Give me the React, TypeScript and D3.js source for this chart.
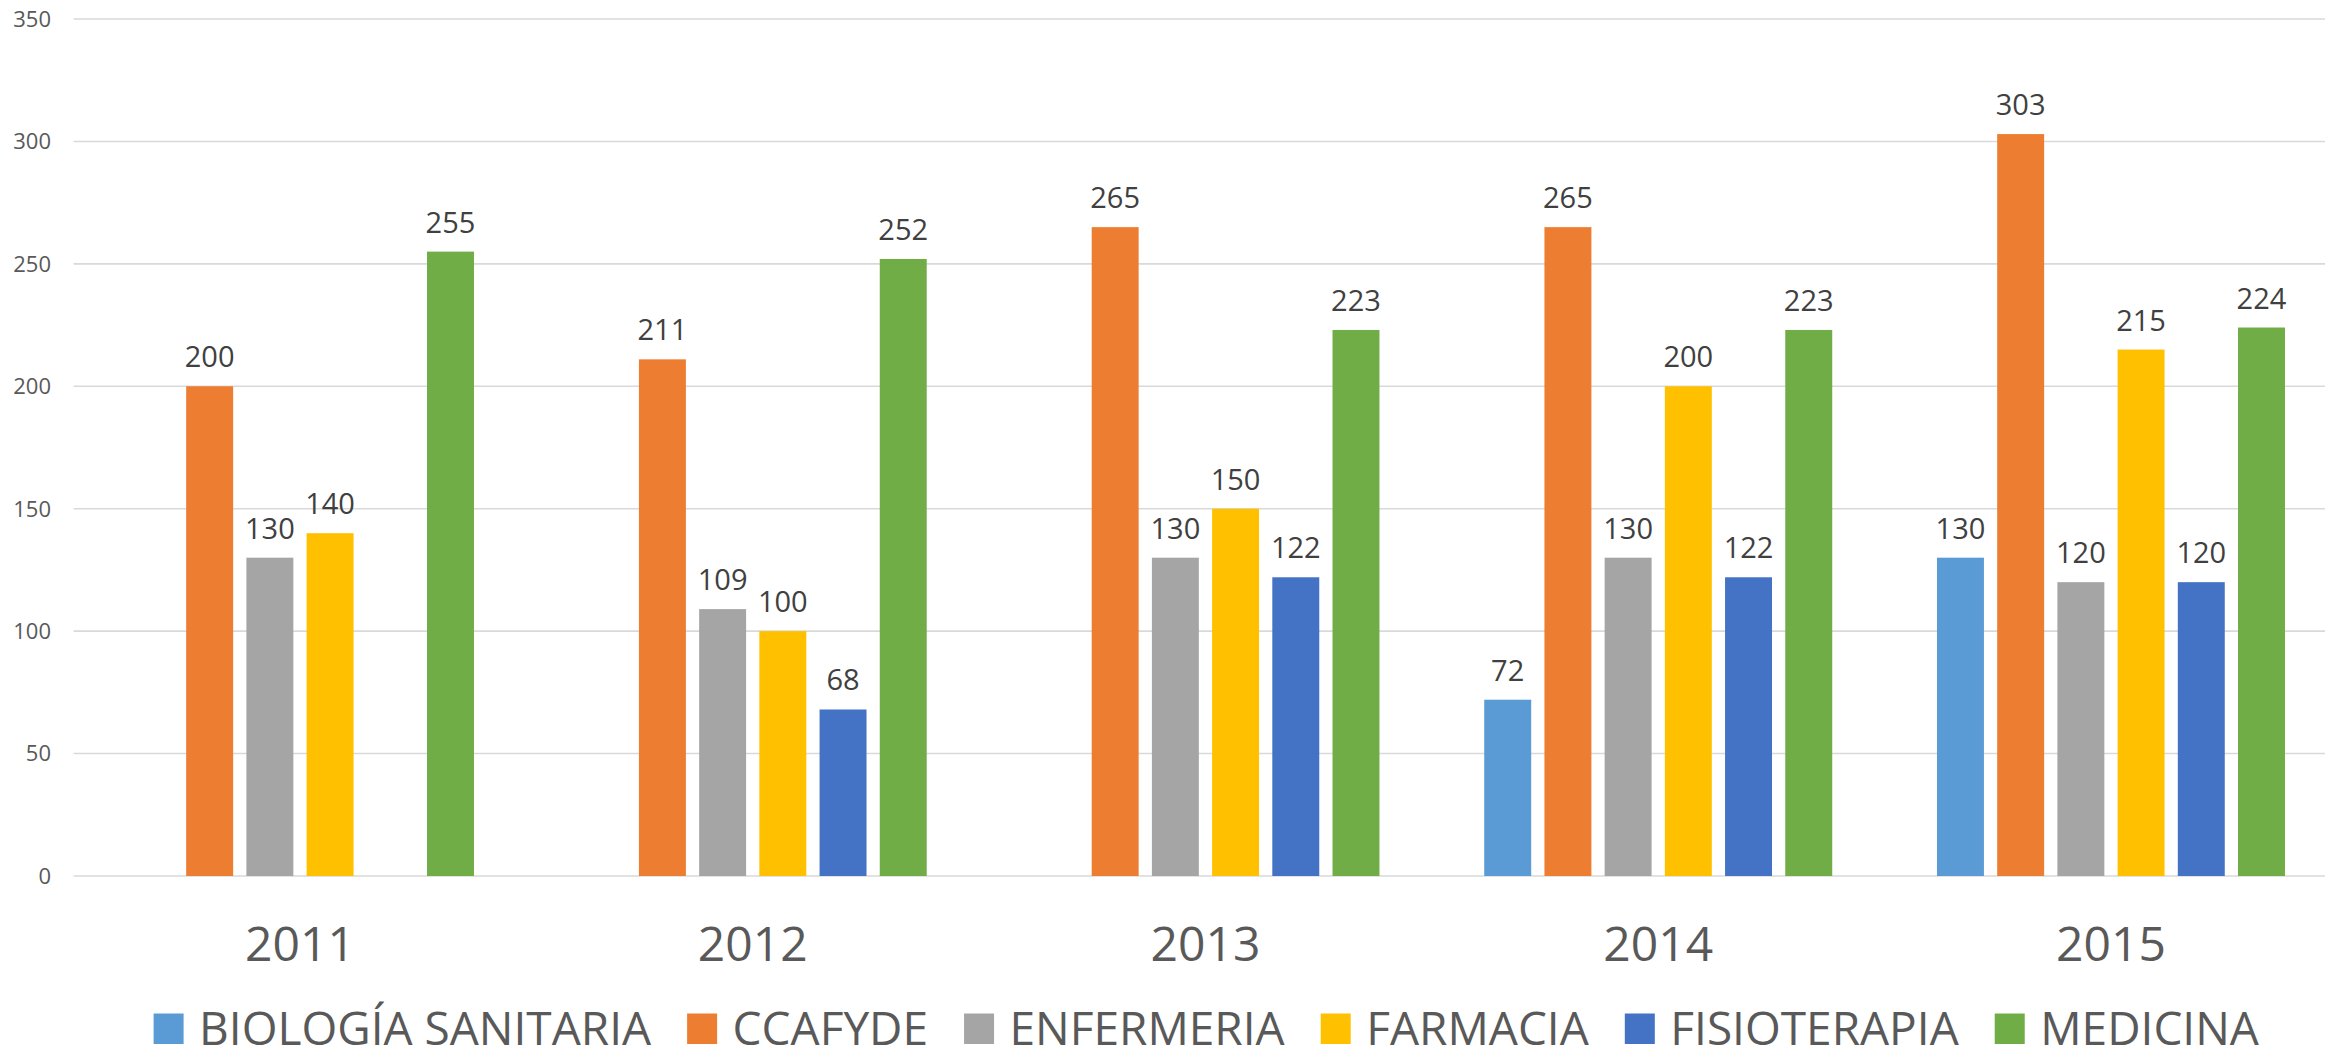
import React, { useEffect, useRef } from "react";
import * as d3 from "d3";

const years = ["2011", "2012", "2013", "2014", "2015"];
const seriesNames = ["BIOLOGÍA SANITARIA", "CCAFYDE", "ENFERMERIA", "FARMACIA", "FISIOTERAPIA", "MEDICINA"];
const biologia = [null, null, null, 72, 130];
const ccafyde = [200, 211, 265, 265, 303];
const enfermeria = [130, 109, 130, 130, 120];
const farmacia = [140, 100, 150, 200, 215];
const fisioterapia = [null, 68, 122, 122, 120];
const medicina = [255, 252, 223, 223, 224];
const colors = ["#5B9BD5", "#ED7D31", "#A5A5A5", "#FFC000", "#4472C4", "#70AD47"];
const yTicks = [0, 50, 100, 150, 200, 250, 300, 350];

const W = 2325;
const H = 1049;
const FONT = "'Open Sans', sans-serif";

export default function App() {
  const ref = useRef<SVGSVGElement>(null);

  useEffect(() => {
    const svg = d3.select(ref.current);
    svg.selectAll("*").remove();
    const values = [biologia, ccafyde, enfermeria, farmacia, fisioterapia, medicina];

    const plotLeft = 73.6;
    const catStep = 452.75;
    const x0 = d3.scaleBand<string>().domain(years).range([plotLeft, plotLeft + catStep * years.length]).padding(0);
    const x1 = d3.scaleBand<string>().domain(seriesNames).range([0, catStep]).paddingInner(0.22).paddingOuter(0.87);
    const y = d3.scaleLinear().domain([0, 350]).range([876, 19]);

    // gridlines
    svg.append("g").selectAll("line").data(yTicks).join("line")
      .attr("x1", plotLeft).attr("x2", W)
      .attr("y1", (d) => y(d)).attr("y2", (d) => y(d))
      .attr("stroke", "#D9D9D9").attr("stroke-width", 1.6);

    // y tick labels
    svg.append("g").selectAll("text").data(yTicks).join("text")
      .attr("x", 51).attr("y", (d) => y(d) + 7.8)
      .attr("text-anchor", "end")
      .attr("font-family", FONT).attr("font-size", 22).attr("fill", "#595959")
      .text((d) => String(d));

    // bars
    const bars: { year: string; series: string; value: number; color: string }[] = [];
    seriesNames.forEach((s, si) => {
      years.forEach((yr, yi) => {
        const v = values[si][yi];
        if (v != null) bars.push({ year: yr, series: s, value: v, color: colors[si] });
      });
    });
    const gBars = svg.append("g");
    gBars.selectAll("rect").data(bars).join("rect")
      .attr("x", (d) => (x0(d.year) as number) + (x1(d.series) as number))
      .attr("y", (d) => y(d.value))
      .attr("width", x1.bandwidth())
      .attr("height", (d) => y(0) - y(d.value))
      .attr("fill", (d) => d.color);

    gBars.selectAll("text").data(bars).join("text")
      .attr("x", (d) => (x0(d.year) as number) + (x1(d.series) as number) + x1.bandwidth() / 2)
      .attr("y", (d) => y(d.value) - 19)
      .attr("text-anchor", "middle")
      .attr("font-family", FONT).attr("font-size", 29).attr("fill", "#404040")
      .text((d) => String(d.value));

    // category labels
    svg.append("g").selectAll("text").data(years).join("text")
      .attr("x", (d) => (x0(d) as number) + x0.bandwidth() / 2)
      .attr("y", 961)
      .attr("text-anchor", "middle")
      .attr("font-family", FONT).attr("font-size", 48).attr("fill", "#595959")
      .text((d) => d);

    // legend
    const gLeg = svg.append("g");
    let cx = 153.6;
    seriesNames.forEach((s, i) => {
      gLeg.append("rect").attr("x", cx).attr("y", 1013.5).attr("width", 30).attr("height", 30.5).attr("fill", colors[i]);
      const t = gLeg.append("text")
        .attr("x", cx + 45.5).attr("y", 1045)
        .attr("font-family", FONT).attr("font-size", 46).attr("fill", "#595959")
        .text(s);
      const w = (t.node() as SVGTextElement).getComputedTextLength();
      cx = cx + 45.5 + w + 36;
    });
  }, []);

  return (
    <svg ref={ref} width={W} height={H} style={{ position: "absolute", left: 0, top: 0, background: "#fff" }} />
  );
}
